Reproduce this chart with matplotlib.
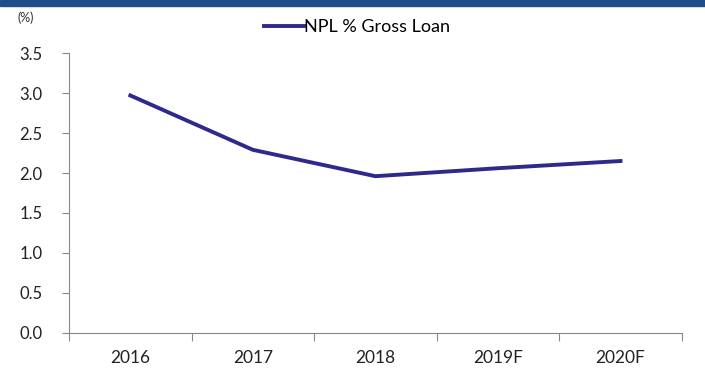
import matplotlib.pyplot as plt
import numpy as np

# Datos
anios = ['2016', '2017', '2018', '2019F', '2020F']
npl = [2.97, 2.29, 1.96, 2.06, 2.15]
yticks = [0.0, 0.5, 1.0, 1.5, 2.0, 2.5, 3.0, 3.5]

plt.rcParams['font.family'] = ['Lato', 'DejaVu Sans']

fig = plt.figure(figsize=(7.05, 3.74), dpi=100)

# Banda azul superior
fig.patches.append(plt.Rectangle((0, 0.984), 1, 0.016, transform=fig.transFigure,
                                 color='#1f4e8c', zorder=0))

ax = fig.add_axes([0.098, 0.11, 0.869, 0.748])
x = np.arange(len(anios))
ax.plot(x, npl, color='#2e2a8c', linewidth=2.8, label='NPL % Gross Loan')

ax.set_xlim(-0.5, len(anios) - 0.5)
ax.set_ylim(0, 3.5)
ax.set_yticks(yticks)
ax.set_yticklabels(['%.1f' % v for v in yticks], fontsize=12, color='#222222')

# Marcas del eje x en los limites de cada categoria
ax.set_xticks(np.arange(-0.5, len(anios), 1))
ax.set_xticklabels([])
ax.set_xticks(x, minor=True)
ax.set_xticklabels(anios, minor=True, fontsize=12.5, color='#222222')
ax.tick_params(axis='x', which='minor', length=0, pad=12)
ax.tick_params(axis='x', which='major', length=6, color='#888888')
ax.tick_params(axis='y', length=5, color='#888888', pad=14)

for lado in ['top', 'right']:
    ax.spines[lado].set_visible(False)
for lado in ['left', 'bottom']:
    ax.spines[lado].set_color('#888888')

fig.text(0.025, 0.94, '(%)', fontsize=9, color='#333333')
ax.legend(loc='center', bbox_to_anchor=(0.47, 1.093), frameon=False,
          fontsize=13, handlelength=2.2, handletextpad=0.0, borderaxespad=0)

plt.savefig('out.png', dpi=100)
